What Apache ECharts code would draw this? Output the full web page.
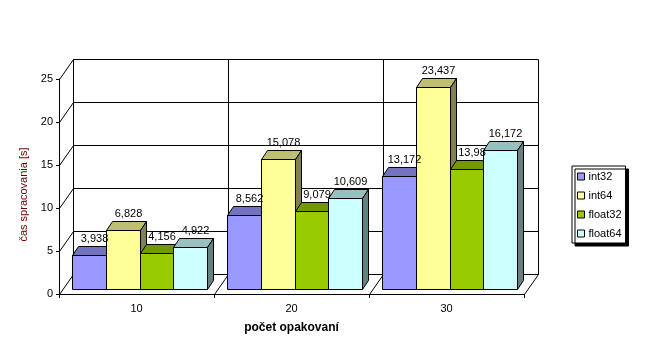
<!DOCTYPE html>
<html>
<head>
<meta charset="utf-8">
<script src="https://cdn.jsdelivr.net/npm/echarts@6/dist/echarts.min.js"></script>
<style>
html,body{margin:0;padding:0;background:#fff;}
#c{width:672px;height:361px;}
</style>
</head>
<body>
<div id="c"></div>
<script>
const categories = ['10', '20', '30'];
const int32 = [3.938, 8.562, 13.172];
const int64 = [6.828, 15.078, 23.437];
const float32 = [4.156, 9.079, 13.98];
const float64 = [4.922, 10.609, 16.172];
const seriesNames = ['int32', 'int64', 'float32', 'float64'];
const yTicks = [0, 5, 10, 15, 20, 25];
const yMin = 0, yMax = 25, yStep = 5;
const xTitle = 'počet opakovaní';
const yTitle = 'čas spracovania [s]';

// --- styling / geometry (not data) ---
const FONT = "'Liberation Sans', Arial, sans-serif";
const WALL = [14, -20];      // depth of the 3D walls in px
const BAR_SHIFT = [3, -5];   // bar front plane offset from front axis plane
const BAR_DEPTH = [6, -9];   // depth of each bar
const GROUP_FRAC = 0.865;    // share of a category band taken by the group
const faces = [
  { front: '#9999FF', top: '#7373BF', side: '#4D4D80' },
  { front: '#FFFF99', top: '#BFBF73', side: '#808050' },
  { front: '#99CC00', top: '#739900', side: '#4D6600' },
  { front: '#CCFFFF', top: '#99BFBF', side: '#668080' }
];
const seriesData = [int32, int64, float32, float64];

const px = v => Math.round(v - 0.5) + 0.5;
const ln = (x1, y1, x2, y2) => ({
  type: 'line',
  shape: { x1: px(x1), y1: px(y1), x2: px(x2), y2: px(y2) },
  style: { stroke: '#000', lineWidth: 1 }
});

function renderWallY(params, api) {
  const v = api.value(1);
  const p = api.coord([0, v]);
  const bw = api.size([1, 0])[0];
  const x0 = p[0] - bw / 2;
  const x1 = x0 + bw * categories.length;
  const y = p[1];
  const ch = [
    ln(x0, y, x0 + WALL[0], y + WALL[1]),
    ln(x0 + WALL[0], y + WALL[1], x1 + WALL[0], y + WALL[1])
  ];
  if (v === yMin) ch.push(ln(x1, y, x1 + WALL[0], y + WALL[1]));
  return { type: 'group', children: ch };
}

function renderWallX(params, api) {
  const i = api.value(2);
  const p0 = api.coord([0, yMin]);
  const pT = api.coord([0, yMax]);
  const bw = api.size([1, 0])[0];
  const x = p0[0] - bw / 2 + i * bw;
  const ch = [ln(x + WALL[0], p0[1] + WALL[1], x + WALL[0], pT[1] + WALL[1])];
  if (i > 0 && i < categories.length) ch.push(ln(x, p0[1], x + WALL[0], p0[1] + WALL[1]));
  return { type: 'group', children: ch };
}

function barGeom(s, api) {
  const ci = api.value(0), v = api.value(1);
  const base = api.coord([ci, 0]);
  const tp = api.coord([ci, v]);
  const bw = api.size([1, 0])[0];
  const gw = bw * GROUP_FRAC;
  const barW = gw / seriesNames.length;
  return {
    v: v,
    xL: Math.round(base[0] - gw / 2 + s * barW + BAR_SHIFT[0]) + 0.5,
    xR: Math.round(base[0] - gw / 2 + (s + 1) * barW + BAR_SHIFT[0]) + 0.5,
    yB: Math.round(base[1] + BAR_SHIFT[1]) + 0.5,
    yT: Math.round(tp[1] + BAR_SHIFT[1]) + 0.5
  };
}

function makeBarRenderer(s) {
  return function (params, api) {
    const g = barGeom(s, api);
    const { xL, xR, yB, yT } = g;
    const dx = BAR_DEPTH[0], dy = BAR_DEPTH[1];
    const f = faces[s];
    const st = c => ({ fill: c, stroke: '#000', lineWidth: 1 });
    return {
      type: 'group',
      children: [
        { type: 'polygon', shape: { points: [[xL, yT], [xR, yT], [xR, yB], [xL, yB]] }, style: st(f.front) },
        { type: 'polygon', shape: { points: [[xL, yT], [xR, yT], [xR + dx, yT + dy], [xL + dx, yT + dy]] }, style: st(f.top) },
        { type: 'polygon', shape: { points: [[xR, yT], [xR + dx, yT + dy], [xR + dx, yB + dy], [xR, yB]] }, style: st(f.side) }
      ]
    };
  };
}

function makeLabelRenderer(s) {
  return function (params, api) {
    const g = barGeom(s, api);
    return {
      type: 'text',
      style: {
        text: String(g.v).replace('.', ','),
        x: (g.xL + g.xR) / 2 + 5, y: g.yT + BAR_DEPTH[1] - 2,
        align: 'center', verticalAlign: 'bottom',
        fill: '#000', font: '11px ' + FONT
      }
    };
  };
}

const chart = echarts.init(document.getElementById('c'), null, { renderer: 'canvas' });

const series = [
  {
    name: 'wallY', type: 'custom', silent: true, z: 1,
    data: yTicks.map(v => [0, v]),
    renderItem: renderWallY
  },
  {
    name: 'wallX', type: 'custom', silent: true, z: 1,
    data: categories.map((c, i) => [0, 0, i]).concat([[0, 0, categories.length]]),
    renderItem: renderWallX
  }
];
seriesNames.forEach((n, s) => {
  series.push({
    name: n, type: 'custom', z: 2 + s, silent: true,
    itemStyle: { color: faces[s].front },
    data: seriesData[s].map((v, i) => [i, v]),
    renderItem: makeBarRenderer(s)
  });
});
seriesNames.forEach((n, s) => {
  series.push({
    name: n + ' labels', type: 'custom', z: 20, silent: true,
    data: seriesData[s].map((v, i) => [i, v]),
    renderItem: makeLabelRenderer(s)
  });
});

chart.setOption({
  animation: false,
  backgroundColor: '#fff',
  textStyle: { fontFamily: FONT },
  grid: { left: 59, right: 148, top: 79, bottom: 67, containLabel: false, outerBoundsMode: 'none' },
  xAxis: {
    type: 'category',
    data: categories,
    boundaryGap: true,
    axisLine: { show: true, lineStyle: { color: '#000', width: 1 } },
    axisTick: { show: true, length: 4, lineStyle: { color: '#000' } },
    axisLabel: { color: '#000', fontSize: 11, fontFamily: FONT, margin: 9 },
    splitLine: { show: false },
    name: xTitle,
    nameLocation: 'middle',
    nameGap: 28,
    nameTextStyle: { color: '#000', fontSize: 12, fontWeight: 'bold', fontFamily: FONT }
  },
  yAxis: {
    type: 'value',
    min: yMin, max: yMax, interval: yStep,
    axisLine: { show: true, lineStyle: { color: '#000', width: 1 } },
    axisTick: { show: true, length: 3, lineStyle: { color: '#000' } },
    axisLabel: { color: '#000', fontSize: 11, fontFamily: FONT, margin: 6 },
    splitLine: { show: false },
    name: yTitle,
    nameLocation: 'middle',
    nameGap: 22,
    nameTextStyle: { color: '#700000', fontSize: 11, fontFamily: FONT, padding: [0, 16, 0, 0] }
  },
  legend: {
    data: seriesNames,
    orient: 'vertical',
    left: 572, top: 166,
    icon: 'rect',
    itemWidth: 7, itemHeight: 7, itemGap: 8,
    padding: [5, 4, 4, 5],
    selectedMode: false,
    backgroundColor: '#fff',
    borderColor: '#000', borderWidth: 1,
    shadowColor: '#000', shadowOffsetX: 3, shadowOffsetY: 3, shadowBlur: 0,
    itemStyle: { borderColor: '#000', borderWidth: 1 },
    textStyle: { color: '#000', fontSize: 11, fontFamily: FONT, padding: [0, 0, 0, -1] }
  },
  series: series
});
</script>
</body>
</html>
